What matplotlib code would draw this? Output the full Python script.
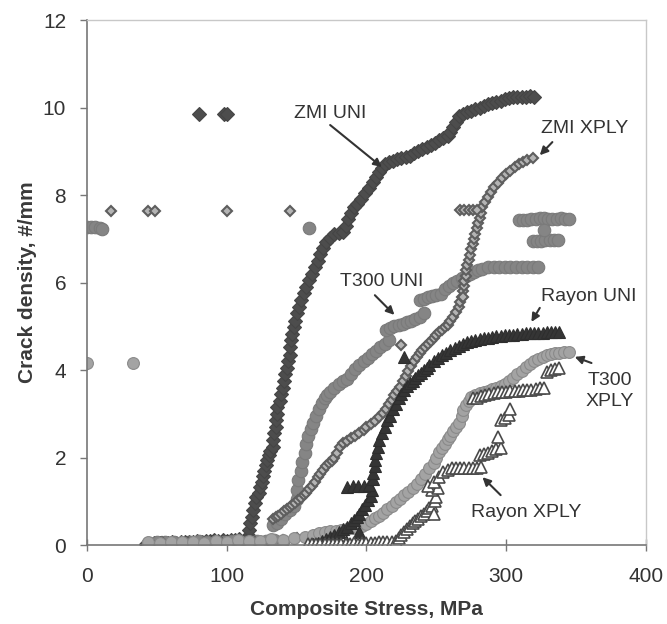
import matplotlib
matplotlib.use("Agg")
import matplotlib.pyplot as plt

plt.rcParams['font.family'] = ['Liberation Sans', 'DejaVu Sans']

# ---- data (stress MPa, crack density #/mm) ----
zmi_uni_x = [42, 44, 46, 48, 50, 52, 55, 58, 61, 64, 67, 70, 73, 76, 79, 82, 85, 88, 91, 94, 97, 100,
             103, 106, 109, 112, 115,
             116, 116, 117, 118, 119, 120, 121, 123, 124, 125, 126, 127, 128, 129, 130, 131, 133, 133,
             134, 135, 135, 136, 136, 138, 139, 140, 141, 142, 143, 144, 145, 145, 146, 147, 148, 149,
             150, 152, 153, 155, 157, 159, 161, 163, 165, 167, 169, 171, 174, 177, 180, 183, 185, 187,
             189, 191, 193, 196, 199, 202, 205, 207, 209, 211, 213, 216, 219, 222, 225, 228, 231, 234,
             237, 240, 243, 246, 249, 252, 255, 258, 260, 262, 264, 266, 269, 272, 275, 278, 281, 284,
             287, 290, 293, 296, 299, 302, 305, 308, 311, 314, 317, 320,
             80, 98, 100]
zmi_uni_y = [0.02, 0.03, 0.02, 0.04, 0.03, 0.05, 0.04, 0.05, 0.06, 0.05, 0.07, 0.06, 0.08, 0.07, 0.09, 0.08, 0.1, 0.09, 0.11, 0.1, 0.12, 0.1,
             0.12, 0.11, 0.13, 0.12, 0.14,
             0.2, 0.35, 0.5, 0.65, 0.8, 0.95, 1.1, 1.2, 1.33, 1.45, 1.58, 1.7, 1.82, 1.95, 2.05, 2.15, 2.24, 2.4,
             2.55, 2.7, 2.85, 3.0, 3.15, 3.3, 3.45, 3.6, 3.75, 3.9, 4.05, 4.2, 4.35, 4.53, 4.68, 4.83, 4.98, 5.13,
             5.3, 5.45, 5.6, 5.75, 5.9, 6.06, 6.2, 6.35, 6.5, 6.65, 6.8, 6.92, 7.02, 7.1, 7.13, 7.15, 7.3, 7.45,
             7.6, 7.72, 7.8, 7.92, 8.05, 8.15, 8.3, 8.42, 8.52, 8.62, 8.7, 8.75, 8.78, 8.82, 8.85, 8.88, 8.9, 8.95,
             9.0, 9.05, 9.1, 9.15, 9.2, 9.25, 9.3, 9.35, 9.45, 9.55, 9.68, 9.8, 9.85, 9.9, 9.93, 9.96, 10.0, 10.04,
             10.07, 10.1, 10.13, 10.16, 10.19, 10.21, 10.23, 10.24, 10.25, 10.25, 10.26, 10.25,
             9.85, 9.85, 9.85]

t300_uni_x = [44, 50, 56, 62, 68, 74, 80, 86, 92, 98, 104, 110, 116, 122, 128, 134, 140,
              133, 136, 139, 142, 145, 148, 150, 150, 151, 153, 154, 156, 157, 158, 160, 162, 164, 166,
              168, 170, 172, 174, 177, 180, 183, 186, 189, 192, 195, 198, 201, 204, 207, 210, 213, 216,
              214, 217, 220, 223, 226, 229, 232, 235, 238, 241, 238, 241, 244, 247, 250, 253, 256, 259,
              262, 265, 268, 271, 274, 277, 280, 283, 287, 291, 295, 299, 303, 307, 311, 315, 319, 323,
              309, 312, 315, 318, 321, 324, 327, 330, 333, 336, 339, 342, 345,
              319, 322, 325, 328, 331, 334, 337, 327,
              0, 3, 6, 9, 11, 159]
t300_uni_y = [0.05, 0.07, 0.06, 0.08, 0.05, 0.07, 0.09, 0.06, 0.08, 0.07, 0.1, 0.08, 0.07, 0.09, 0.1, 0.12, 0.1,
              0.45, 0.5, 0.6, 0.7, 0.8, 0.9, 1.05, 1.25, 1.49, 1.7, 1.9, 2.1, 2.3, 2.5, 2.65, 2.8, 2.95, 3.1,
              3.25, 3.35, 3.42, 3.5, 3.6, 3.68, 3.75, 3.8, 3.92, 4.02, 4.12, 4.2, 4.28, 4.36, 4.44, 4.52, 4.6, 4.68,
              4.92, 4.95, 5.0, 5.02, 5.05, 5.1, 5.13, 5.17, 5.22, 5.3, 5.6, 5.62, 5.66, 5.7, 5.72, 5.74, 5.85, 5.92,
              5.98, 6.04, 6.1, 6.15, 6.2, 6.24, 6.28, 6.32, 6.35, 6.35, 6.35, 6.35, 6.35, 6.35, 6.35, 6.35, 6.35, 6.35,
              7.42, 7.43, 7.44, 7.45, 7.46, 7.47, 7.47, 7.46, 7.45, 7.46, 7.47, 7.46, 7.45,
              6.95, 6.95, 6.96, 6.97, 6.98, 6.98, 6.97, 7.2,
              7.28, 7.28, 7.28, 7.25, 7.22, 7.25]

zmi_xply_x = [46, 54, 62, 72, 84, 96, 108, 120, 130, 140, 150,
              133, 135, 137, 139, 141, 143, 145, 147, 149, 151, 153, 155, 157, 159, 161, 163, 165, 167,
              169, 171, 173, 175, 177, 179, 181, 183, 186, 189, 192, 195, 198, 200, 203, 206, 209, 212,
              214, 216, 218, 220, 222, 224, 226, 228, 230, 232, 234, 236, 238, 240, 242, 244, 246, 248,
              250, 252, 254, 256, 258, 260, 262, 264, 266, 267, 268, 269, 270, 270, 271, 271, 272, 273,
              274, 275, 276, 277, 278, 279, 280, 281, 282, 283, 285, 287, 289, 291, 294, 297, 300, 303,
              306, 309, 312, 315, 319,
              267, 270, 273, 276, 279,
              17, 44, 49, 100, 145, 225, 269]
zmi_xply_y = [0.05, 0.06, 0.05, 0.07, 0.06, 0.08, 0.07, 0.08, 0.1, 0.12, 0.15,
              0.6, 0.63, 0.67, 0.72, 0.77, 0.82, 0.87, 0.92, 0.97, 1.02, 1.08, 1.14, 1.19, 1.27, 1.35, 1.45, 1.55, 1.63,
              1.71, 1.8, 1.87, 1.93, 2.0, 2.1, 2.24, 2.33, 2.38, 2.44, 2.49, 2.55, 2.63, 2.7, 2.77, 2.84, 2.92, 3.02,
              3.12, 3.22, 3.32, 3.42, 3.52, 3.62, 3.74, 3.86, 3.98, 4.1, 4.2, 4.3, 4.38, 4.45, 4.52, 4.6, 4.67, 4.74,
              4.8, 4.86, 4.92, 4.98, 5.04, 5.12, 5.22, 5.33, 5.45, 5.56, 5.68, 5.8, 5.92, 6.04, 6.16, 6.28, 6.4, 6.52,
              6.64, 6.76, 6.88, 7.0, 7.12, 7.24, 7.36, 7.48, 7.6, 7.72, 7.84, 7.96, 8.08, 8.18, 8.28, 8.38, 8.48, 8.56,
              8.63, 8.7, 8.75, 8.8, 8.84,
              7.65, 7.65, 7.66, 7.65, 7.65,
              7.63, 7.63, 7.63, 7.63, 7.63, 4.57, 5.67]

t300_xply_x = [44, 52, 60, 68, 76, 84, 92, 100, 108, 116, 124, 132, 140, 148, 156,
               162, 166, 170, 174, 178, 182, 186, 190, 194, 197, 200, 203, 206, 209, 212, 215, 218, 221,
               224, 227, 230, 233, 236, 239, 242, 245, 248, 250, 252, 254, 256, 258, 260, 262, 264, 266,
               268, 269, 271, 273, 275, 278, 281, 284, 287, 290, 293, 296, 299, 302, 305, 308, 311, 314,
               317, 320, 323, 326, 329, 332, 335, 338, 341, 345,
               0, 33]
t300_xply_y = [0.06, 0.05, 0.08, 0.07, 0.06, 0.05, 0.1, 0.08, 0.12, 0.1, 0.09, 0.14, 0.12, 0.15, 0.18,
               0.24, 0.27, 0.3, 0.32, 0.33, 0.35, 0.37, 0.38, 0.4, 0.43, 0.48, 0.55, 0.61, 0.66, 0.74, 0.82, 0.9, 0.98,
               1.06, 1.14, 1.22, 1.31, 1.4, 1.5, 1.62, 1.75, 1.88, 2.0, 2.12, 2.22, 2.32, 2.42, 2.5, 2.6, 2.7, 2.8,
               2.95, 3.08, 3.2, 3.3, 3.38, 3.44, 3.48, 3.5, 3.53, 3.56, 3.6, 3.64, 3.68, 3.74, 3.82, 3.9, 3.98, 4.06,
               4.14, 4.2, 4.26, 4.3, 4.34, 4.37, 4.38, 4.4, 4.41, 4.41,
               4.16, 4.16]

rayon_uni_x = [162, 165, 168, 171, 174, 175, 177, 180, 183, 185, 186, 189, 191, 193, 195, 195, 197, 199,
               201, 203, 204, 186, 190, 194, 198, 202, 205, 205, 206, 206, 207, 208, 209, 211, 213, 215,
               217, 219, 221, 223, 225, 227, 229, 231, 233, 235, 237, 239, 241, 243, 245, 248, 251, 254,
               257, 260, 263, 266, 269, 272, 275, 278, 281, 284, 287, 290, 293, 296, 299, 302, 305, 308,
               311, 314, 317, 320, 323, 326, 329, 332, 335, 338, 227]
rayon_uni_y = [0.02, 0.05, 0.1, 0.14, 0.18, 0.05, 0.23, 0.3, 0.36, 0.1, 0.42, 0.5, 0.57, 0.64, 0.72, 0.3, 0.82, 0.92,
               1.02, 1.12, 1.25, 1.33, 1.35, 1.35, 1.35, 1.38, 1.5, 1.65, 1.8, 1.95, 2.1, 2.25, 2.4, 2.55, 2.7, 2.85,
               2.95, 3.1, 3.22, 3.35, 3.45, 3.55, 3.63, 3.7, 3.76, 3.82, 3.88, 3.94, 4.0, 4.05, 4.12, 4.2, 4.27, 4.34,
               4.4, 4.46, 4.51, 4.56, 4.6, 4.63, 4.66, 4.69, 4.71, 4.73, 4.74, 4.75, 4.77, 4.78, 4.79, 4.8, 4.81, 4.82,
               4.83, 4.84, 4.84, 4.85, 4.85, 4.85, 4.86, 4.86, 4.86, 4.86, 4.3]

rayon_xply_x = [158, 161, 164, 167, 170, 173, 176, 179, 182, 185, 188, 191, 194, 197, 200, 203, 206, 209,
                212, 215, 218, 221,
                223, 225, 227, 229, 231, 233, 235, 237, 239, 241, 243, 245, 247, 248, 249, 250, 247, 251,
                244, 248, 252, 255, 258, 261, 264, 267, 270, 273, 276, 279, 282, 281, 284, 287, 290, 293,
                296, 294, 296, 299, 302, 303, 276, 279, 282, 285, 288, 291, 294, 297, 300, 303, 306, 309,
                312, 315, 318, 321, 324, 327, 329, 332, 335, 338]
rayon_xply_y = [0.02, 0.02, 0.03, 0.02, 0.03, 0.02, 0.03, 0.02, 0.03, 0.02, 0.03, 0.04, 0.03, 0.05, 0.04, 0.05, 0.05, 0.06,
                0.07, 0.07, 0.08, 0.1,
                0.15, 0.22, 0.29, 0.36, 0.43, 0.5, 0.55, 0.6, 0.66, 0.72, 0.78, 0.84, 0.9, 0.7, 1.0, 1.1, 1.25, 1.3,
                1.35, 1.45, 1.55, 1.68, 1.72, 1.75, 1.75, 1.75, 1.75, 1.75, 1.76, 1.77, 1.78, 2.05, 2.08, 2.1, 2.15, 2.2,
                2.22, 2.47, 2.85, 2.9, 2.98, 3.12, 3.35, 3.37, 3.4, 3.43, 3.45, 3.47, 3.5, 3.5, 3.5, 3.51, 3.52, 3.53,
                3.54, 3.55, 3.55, 3.56, 3.58, 3.6, 3.95, 4.0, 4.03, 4.05]

# label text, text position, arrow tail, arrow head
labels = ['ZMI UNI', 'ZMI XPLY', 'T300 UNI', 'Rayon UNI', 'T300\nXPLY', 'Rayon XPLY']
label_xy = [(174, 9.87), (356, 9.53), (211, 6.03), (359, 5.67), (374, 3.52), (314, 0.75)]
arrow_from = [(174, 9.6), (333, 9.21), (206, 5.71), (324, 5.42), (361, 4.16), (296, 1.14)]
arrow_to = [(211, 8.64), (324, 8.91), (220, 5.26), (318, 5.1), (349, 4.3), (283, 1.55)]

fig = plt.figure(figsize=(6.67, 6.24), dpi=100)
ax = fig.add_axes([0.1304, 0.1266, 0.8381, 0.8413])

ax.plot(zmi_uni_x, zmi_uni_y, ls='none', marker='D', ms=7.5, mfc='#4d4d4d', mec='#454545', mew=0.8)
ax.plot(t300_uni_x, t300_uni_y, ls='none', marker='o', ms=9, mfc='#858585', mec='#7a7a7a', mew=0.8)
ax.plot(zmi_xply_x, zmi_xply_y, ls='none', marker='D', ms=5.5, mfc='#b4b4b4', mec='#5e5e5e', mew=1.5)
ax.plot(t300_xply_x, t300_xply_y, ls='none', marker='o', ms=8.5, mfc='#a3a3a3', mec='#8a8a8a', mew=0.8)
ax.plot(rayon_uni_x, rayon_uni_y, ls='none', marker='^', ms=9, mfc='#353535', mec='#2e2e2e', mew=0.8)
ax.plot(rayon_xply_x, rayon_xply_y, ls='none', marker='^', ms=9, mfc='white', mec='#4a4a4a', mew=1.2)

for txt, pos, a0, a1 in zip(labels, label_xy, arrow_from, arrow_to):
    ax.text(pos[0], pos[1], txt, ha='center', va='center', fontsize=14, color='#333333',
            linespacing=1.25)
    ax.annotate('', xy=a1, xytext=a0,
                arrowprops=dict(arrowstyle='-|>', color='#333333', lw=1.5, mutation_scale=12,
                                shrinkA=0, shrinkB=0))

ax.set_xlim(0, 400)
ax.set_ylim(0, 12)
ax.set_xticks([0, 100, 200, 300, 400])
ax.set_yticks([0, 2, 4, 6, 8, 10, 12])
ax.tick_params(axis='x', direction='inout', length=8, width=1, color='#777777',
               labelsize=15, labelcolor='#333333', pad=12)
ax.tick_params(axis='y', direction='out', length=5, width=1, color='#777777',
               labelsize=15, labelcolor='#333333', pad=10)

for side in ['left', 'bottom']:
    ax.spines[side].set_color('#777777')
    ax.spines[side].set_linewidth(1.2)
for side in ['top', 'right']:
    ax.spines[side].set_color('#c8c8c8')
    ax.spines[side].set_linewidth(1)

ax.set_xlabel('Composite Stress, MPa', fontsize=15, fontweight='bold', color='#3a3a3a', labelpad=10)
ax.set_ylabel('Crack density, #/mm', fontsize=15, fontweight='bold', color='#3a3a3a', labelpad=4)

fig.savefig('out.png', dpi=100)
